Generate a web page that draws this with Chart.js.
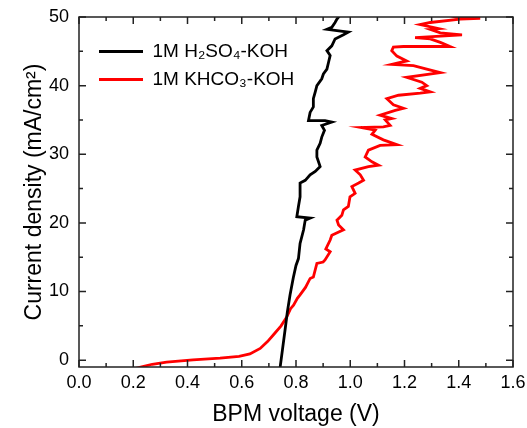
<!DOCTYPE html>
<html>
<head>
<meta charset="utf-8">
<script src="https://cdn.jsdelivr.net/npm/chart.js@4"></script>
<style>
	html, body { margin: 0; padding: 0; background: #fff; }
	#wrap { width: 527px; height: 428px; }
</style>
</head>
<body>
<div id="wrap"><canvas class="chart-bpm"></canvas></div>
<script>
const fontFamily = "'Liberation Sans', Arial, sans-serif";

const seriesLabels = ["1M H\u2082SO\u2084-KOH", "1M KHCO\u2083-KOH"];
const seriesColours = ["#000000", "#ff0000"];

const xTickValues = [0, 0.2, 0.4, 0.6, 0.8, 1.0, 1.2, 1.4, 1.6];
const yTickValues = [0, 10, 20, 30, 40, 50];

// 1M H2SO4-KOH
const blackVoltage = [0.74, 0.75, 0.76, 0.768, 0.778, 0.79, 0.8, 0.809, 0.815, 0.828, 0.834, 0.852, 0.803, 0.809, 0.815, 0.815, 0.834, 0.852, 0.871, 0.889, 0.877, 0.877, 0.889, 0.895, 0.905, 0.895, 0.932, 0.907, 0.846, 0.852, 0.864, 0.864, 0.871, 0.877, 0.895, 0.901, 0.914, 0.92, 0.926, 0.914, 0.932, 0.944, 0.975, 0.993, 0.951, 0.914, 0.932, 0.944, 0.951, 0.963];
const blackCurrent = [-1.5, 1.5, 4.5, 7, 9.5, 12, 13.8, 14.8, 17.0, 19.0, 20.4, 20.7, 20.9, 22.4, 23.8, 25.8, 26.2, 27.0, 27.5, 28.2, 29.6, 30.6, 31.6, 32.5, 33.5, 34.2, 34.7, 34.9, 34.9, 36.1, 36.9, 38.1, 39.1, 40.0, 41.0, 41.7, 42.4, 43.4, 44.4, 45.1, 45.8, 46.8, 47.4, 47.8, 48.0, 48.2, 48.5, 49.2, 49.7, 50.3];

// 1M KHCO3-KOH
const redVoltage = [0.2, 0.231, 0.27, 0.323, 0.42, 0.52, 0.59, 0.63, 0.668, 0.695, 0.717, 0.745, 0.766, 0.78, 0.791, 0.805, 0.815, 0.835, 0.852, 0.864, 0.877, 0.9, 0.907, 0.926, 0.91, 0.92, 0.926, 0.932, 0.975, 0.957, 0.951, 0.969, 0.975, 0.993, 0.999, 1.018, 1.006, 1.031, 1.049, 1.037, 1.018, 1.067, 1.104, 1.08, 1.055, 1.067, 1.11, 1.172, 1.122, 1.08, 1.092, 1.039, 1.122, 1.147, 1.129, 1.153, 1.11, 1.166, 1.196, 1.159, 1.135, 1.178, 1.258, 1.295, 1.258, 1.282, 1.264, 1.208, 1.332, 1.282, 1.233, 1.153, 1.208, 1.172, 1.153, 1.159, 1.196, 1.368, 1.332, 1.295, 1.239, 1.412, 1.332, 1.295, 1.326, 1.258, 1.295, 1.405, 1.479, 1.405, 1.44];
const redCurrent = [-1.3, -0.97, -0.6, -0.3, 0.05, 0.3, 0.55, 0.9, 1.7, 2.7, 3.7, 5.0, 6.3, 7.5, 8.0, 9.0, 9.5, 10.6, 11.9, 12.1, 14.1, 14.3, 14.6, 15.8, 16.2, 17.0, 17.5, 18.2, 19.0, 19.7, 20.4, 21.1, 21.9, 22.4, 23.8, 24.3, 25.3, 25.8, 26.2, 27.0, 27.7, 28.2, 28.4, 28.9, 29.6, 30.6, 31.3, 31.4, 32.1, 32.9, 33.5, 33.9, 34.0, 34.2, 35.0, 35.2, 35.7, 36.4, 36.7, 37.2, 38.1, 38.6, 38.9, 39.1, 39.6, 40.0, 40.5, 41.2, 41.9, 42.4, 42.9, 43.1, 43.6, 44.3, 45.1, 45.6, 45.7, 45.7, 46.3, 46.8, 47.0, 47.4, 47.7, 48.2, 48.3, 48.9, 49.2, 49.7, 49.8, 50.0, 50.3];

function toPoints(xs, ys) {
	return xs.map((x, i) => ({ x: x, y: ys[i] }));
}

// move the legend inside the plot, top left
const legendPlace = {
	id: "legendPlace",
	afterLayout(chart) {
		if (!chart.legend) return;
		chart.legend.left = chart.chartArea.left + 11;
		chart.legend.top = 33;
	},
};

// frame with inward ticks on all four sides
const frameTicks = {
	id: "frameTicks",
	afterDraw(chart) {
		const { ctx, chartArea: a, scales } = chart;
		const xs = scales.x;
		const ys = scales.y;
		ctx.save();
		ctx.strokeStyle = "#222";
		ctx.lineWidth = 1.5;
		ctx.strokeRect(a.left, a.top, a.right - a.left, a.bottom - a.top);
		ctx.beginPath();
		for (let i = 0; i < xTickValues.length; i++) {
			const px = xs.getPixelForValue(xTickValues[i]);
			ctx.moveTo(px, a.bottom); ctx.lineTo(px, a.bottom - 7);
			ctx.moveTo(px, a.top); ctx.lineTo(px, a.top + 7);
			if (i < xTickValues.length - 1) {
				const mx = xs.getPixelForValue((xTickValues[i] + xTickValues[i + 1]) / 2);
				ctx.moveTo(mx, a.bottom); ctx.lineTo(mx, a.bottom - 4);
				ctx.moveTo(mx, a.top); ctx.lineTo(mx, a.top + 4);
			}
		}
		for (let i = 0; i < yTickValues.length; i++) {
			const py = ys.getPixelForValue(yTickValues[i]);
			ctx.moveTo(a.left, py); ctx.lineTo(a.left + 7, py);
			ctx.moveTo(a.right, py); ctx.lineTo(a.right - 7, py);
			if (i < yTickValues.length - 1) {
				const my = ys.getPixelForValue((yTickValues[i] + yTickValues[i + 1]) / 2);
				ctx.moveTo(a.left, my); ctx.lineTo(a.left + 4, my);
				ctx.moveTo(a.right, my); ctx.lineTo(a.right - 4, my);
			}
		}
		ctx.stroke();
		ctx.restore();
	},
};

const chartBpm = document.querySelector(".chart-bpm");

new Chart(chartBpm, {
	type: "scatter",
	data: {
		datasets: [
			{
				label: seriesLabels[0],
				data: toPoints(blackVoltage, blackCurrent),
				borderColor: seriesColours[0],
				backgroundColor: seriesColours[0],
				borderWidth: 2.8,
				showLine: true,
				pointRadius: 0,
				tension: 0,
			},
			{
				label: seriesLabels[1],
				data: toPoints(redVoltage, redCurrent),
				borderColor: seriesColours[1],
				backgroundColor: seriesColours[1],
				borderWidth: 2.8,
				showLine: true,
				pointRadius: 0,
				tension: 0,
			},
		],
	},
	options: {
		responsive: true,
		maintainAspectRatio: false,
		animation: false,
		layout: { padding: { top: 17, right: 14, left: 0, bottom: 0 } },
		plugins: {
			tooltip: { enabled: false },
			legend: {
				position: "chartArea",
				align: "start",
				labels: {
					usePointStyle: true,
					pointStyle: "line",
					pointStyleWidth: 44,
					padding: 9,
					color: "#000",
					font: { family: fontFamily, size: 19 },
				},
			},
		},
		scales: {
			x: {
				type: "linear",
				min: 0,
				max: 1.6,
				grid: { display: false, drawTicks: false },
				border: { display: false },
				ticks: {
					stepSize: 0.2,
					padding: 5,
					color: "#000",
					font: { family: fontFamily, size: 18 },
					callback: (v) => v.toFixed(1),
				},
				title: {
					display: true,
					text: "BPM voltage (V)",
					color: "#000",
					font: { family: fontFamily, size: 23 },
					padding: { top: 0, bottom: 0 },
				},
				afterFit(scale) {
					scale.height = 61;
					scale.paddingLeft = 0;
					scale.paddingRight = 0;
				},
			},
			y: {
				type: "linear",
				min: -1,
				max: 50,
				grid: { display: false, drawTicks: false },
				border: { display: false },
				ticks: {
					padding: 10,
					color: "#000",
					font: { family: fontFamily, size: 18 },
				},
				afterBuildTicks(scale) {
					scale.ticks = yTickValues.map((v) => ({ value: v }));
				},
				title: {
					display: true,
					text: "Current density (mA/cm\u00b2)",
					color: "#000",
					font: { family: fontFamily, size: 23 },
					padding: { top: 21, bottom: 0 },
				},
				afterFit(scale) {
					scale.width = 79;
					scale.paddingTop = 0;
					scale.paddingBottom = 0;
				},
			},
		},
	},
	plugins: [legendPlace, frameTicks],
});
</script>
</body>
</html>
